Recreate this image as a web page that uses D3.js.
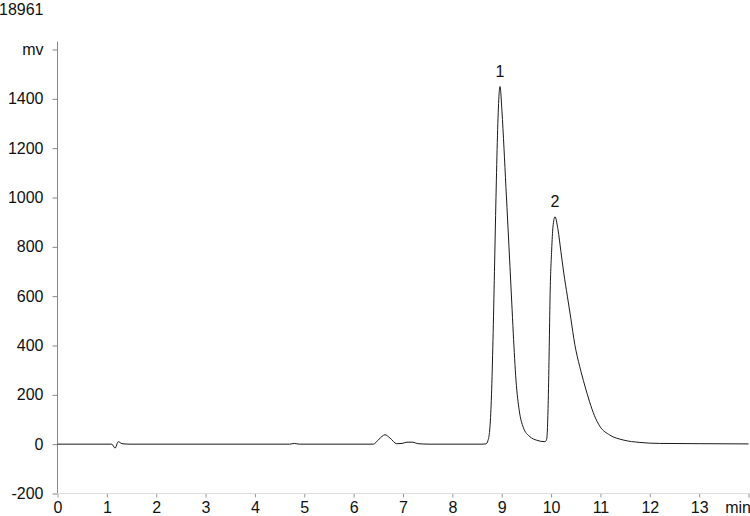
<!DOCTYPE html>
<html>
<head>
<meta charset="utf-8">
<script src="https://cdn.jsdelivr.net/npm/d3@7"></script>
<style>
  body { margin: 0; background: #fff; }
  svg { display: block; }
</style>
</head>
<body>
<div id="chart"></div>
<script>
// Chart data
var sampleId = "18961";

var timeMin = [0, 1.10, 1.165, 1.232, 1.307, 1.469, 4.70, 4.80, 4.90, 6.398, 6.513, 6.635, 6.736, 6.872, 6.98, 7.08, 7.20, 7.30, 7.55,
    8.60, 8.681, 8.722, 8.762, 8.793, 8.823, 8.853, 8.884, 8.914, 8.944, 8.965, 9.005, 9.046, 9.086, 9.127, 9.167,
    9.202, 9.234, 9.289, 9.356, 9.437, 9.573, 9.708, 9.876, 9.911, 9.943, 9.963, 9.978, 10.012, 10.038, 10.079,
    10.14, 10.20, 10.26, 10.33, 10.40, 10.48, 10.58, 10.68, 10.78, 10.88, 10.99, 11.19,
    11.46, 11.80, 12.20, 13.0, 14.0];
var signalMv = [0, 0, -16, 10, 2, 0, 0, 3, 0, 0, 20, 38, 25, 2, 3, 8, 8, 2, 0,
    0, 1, 15, 70, 200, 420, 700, 1000, 1250, 1410, 1450, 1350, 1200, 1040, 880, 720,
    580, 450, 260, 135, 68, 30, 16, 10, 20, 178, 395, 584, 787, 880, 922,
    870, 780, 690, 600, 510, 405, 315, 240, 172, 115, 72, 37,
    17, 7, 3, 2, 1];

var peakNames = ["1", "2"];
var peakTimes = [8.965, 10.079];
var peakHeights = [1450, 922];

var xTicks = d3.range(0, 15);
var yTicks = d3.range(-200, 1601, 200);

// Layout
var svgWidth = 750;
var svgHeight = 516;
var margin = { top: 49.5, right: 1.5, bottom: 22.5, left: 57.5 };
var width = svgWidth - margin.left - margin.right;
var height = svgHeight - margin.top - margin.bottom;
var fontFamily = "'Liberation Sans', Arial, sans-serif";
var fontSize = 16;

var svg = d3.select("#chart")
    .append("svg")
    .attr("width", svgWidth)
    .attr("height", svgHeight)
    .attr("font-family", fontFamily);

var chartGroup = svg.append("g")
    .attr("transform", `translate(${margin.left}, ${margin.top})`);

var xScale = d3.scaleLinear().domain([0, 14]).range([0, width]);
var yScale = d3.scaleLinear().domain([-200, 1600]).range([height, 0]);

// sample number, top left
svg.append("text")
    .attr("x", -1)
    .attr("y", 15)
    .attr("font-size", fontSize)
    .attr("fill", "#111")
    .text(sampleId);

// y axis
var yAxis = chartGroup.append("g")
    .call(d3.axisLeft(yScale)
        .tickValues(yTicks)
        .tickSize(5)
        .tickPadding(9)
        .tickSizeOuter(0)
        .tickFormat(d => d === 1600 ? "mv" : d));
yAxis.attr("font-family", fontFamily).attr("font-size", fontSize);
yAxis.select(".domain").remove();
yAxis.selectAll(".tick line").attr("stroke", "#888");
yAxis.selectAll(".tick text").attr("fill", "#111");
chartGroup.append("line")
    .attr("x1", 0).attr("x2", 0)
    .attr("y1", yScale(1600) - 8).attr("y2", height)
    .attr("stroke", "#888");

// x axis
var xAxis = chartGroup.append("g")
    .attr("transform", `translate(0, ${height})`)
    .call(d3.axisBottom(xScale)
        .tickValues(xTicks)
        .tickSize(4)
        .tickPadding(4)
        .tickSizeOuter(0)
        .tickFormat(d => d === 14 ? "min" : d));
xAxis.attr("font-family", fontFamily).attr("font-size", fontSize);
xAxis.select(".domain").remove();
xAxis.selectAll(".tick line").attr("stroke", "#999");
xAxis.selectAll(".tick text").attr("fill", "#111");
xAxis.selectAll(".tick text").filter(d => d === 14).attr("text-anchor", "end").attr("dx", "2px");
chartGroup.append("line")
    .attr("x1", 0).attr("x2", width + margin.right)
    .attr("y1", height).attr("y2", height)
    .attr("stroke", "#ddd");

// signal trace
var points = timeMin.map((t, i) => [t, signalMv[i]]);
var line = d3.line()
    .x(d => xScale(d[0]))
    .y(d => yScale(d[1]))
    .curve(d3.curveMonotoneX);

chartGroup.append("path")
    .datum(points)
    .attr("fill", "none")
    .attr("stroke", "#1a1a1a")
    .attr("stroke-width", 1)
    .attr("d", line);

// peak labels
chartGroup.selectAll(".peak-label")
    .data(peakNames)
    .enter()
    .append("text")
    .attr("class", "peak-label")
    .attr("x", (d, i) => xScale(peakTimes[i]))
    .attr("y", (d, i) => yScale(peakHeights[i]) - 10)
    .attr("text-anchor", "middle")
    .attr("font-size", fontSize)
    .attr("fill", "#111")
    .text(d => d);
</script>
</body>
</html>
